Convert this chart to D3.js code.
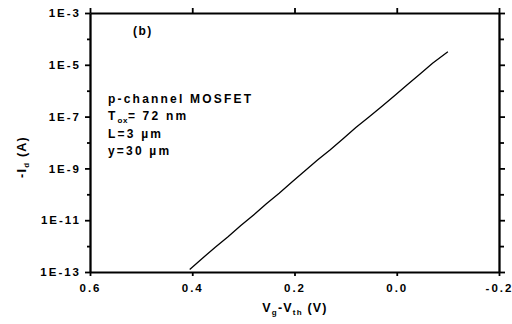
<html>
<head>
<script src="https://d3js.org/d3.v7.min.js"></script>
<style>
  body { margin: 0; background: #fff; }
  text { font-family: "Liberation Sans", Arial, sans-serif; font-weight: bold; fill: #000; }
</style>
</head>
<body>
<script>
// gate overdrive (V) and drain current (A)
var vg = [0.405, 0.38, 0.355, 0.33, 0.305, 0.28, 0.255, 0.23, 0.205, 0.18, 0.155,
          0.13, 0.105, 0.08, 0.055, 0.03, 0.005, -0.02, -0.045, -0.07, -0.1];
var id = [1.26e-13, 3.4e-13, 9.1e-13, 2.3e-12, 6.2e-12, 1.6e-11, 4.3e-11, 1.1e-10, 3.0e-10, 7.9e-10, 2.1e-9,
          5.2e-9, 1.4e-8, 3.8e-8, 9.5e-8, 2.4e-7, 6.3e-7, 1.66e-6, 4.3e-6, 1.15e-5, 3.2e-5];

var xTicks = [0.6, 0.4, 0.2, 0.0, -0.2];
var xTickLabels = ["0.6", "0.4", "0.2", "0.0", "-0.2"];
var yTicks = [1e-3, 1e-5, 1e-7, 1e-9, 1e-11, 1e-13];
var yTickLabels = ["1E-3", "1E-5", "1E-7", "1E-9", "1E-11", "1E-13"];
var yMinor = [1e-4, 1e-6, 1e-8, 1e-10, 1e-12];

var W = 512, H = 324;
var L = 90, R = 499, T = 13, B = 272;

var x = d3.scaleLinear().domain([0.6, -0.2]).range([L, R]);
var y = d3.scaleLog().domain([1e-13, 1e-3]).range([B, T]);

var svg = d3.select("body").append("svg").attr("width", W).attr("height", H);

// axes
var fmtX = function(d) { return xTickLabels[xTicks.indexOf(d)]; };
var fmtY = function(d) { return yTickLabels[yTicks.indexOf(d)]; };

var gB = svg.append("g").attr("transform", "translate(0," + B + ")")
  .call(d3.axisBottom(x).tickValues(xTicks).tickFormat(fmtX).tickSize(4).tickSizeOuter(0).tickPadding(5));
var gT = svg.append("g").attr("transform", "translate(0," + T + ")")
  .call(d3.axisTop(x).tickValues(xTicks).tickFormat("").tickSize(5).tickSizeOuter(0));
var gL = svg.append("g").attr("transform", "translate(" + L + ",0)")
  .call(d3.axisLeft(y).tickValues(yTicks).tickFormat(fmtY).tickSize(5).tickSizeOuter(0).tickPadding(4));
var gLm = svg.append("g").attr("transform", "translate(" + L + ",0)")
  .call(d3.axisLeft(y).tickValues(yMinor).tickFormat("").tickSize(3).tickSizeOuter(0));
var gR = svg.append("g").attr("transform", "translate(" + R + ",0)")
  .call(d3.axisRight(y).tickValues(yTicks).tickFormat("").tickSize(6).tickSizeOuter(0));
var gRm = svg.append("g").attr("transform", "translate(" + R + ",0)")
  .call(d3.axisRight(y).tickValues(yMinor).tickFormat("").tickSize(5).tickSizeOuter(0));

svg.selectAll(".domain, .tick line").attr("stroke", "#000").attr("stroke-width", 1.8);
svg.selectAll(".tick text")
  .style("font-family", "'Liberation Sans', Arial, sans-serif")
  .style("font-weight", "bold")
  .style("font-size", "11.5px")
  .style("letter-spacing", "2px")
  .attr("fill", "#000");
gB.selectAll(".tick text").attr("dy", "0.95em");

// curve
var pts = vg.map(function(v, i) { return [v, id[i]]; });
svg.append("path")
  .datum(pts)
  .attr("fill", "none")
  .attr("stroke", "#000")
  .attr("stroke-width", 1.3)
  .attr("d", d3.line().x(d => x(d[0])).y(d => y(d[1])));

// annotations
svg.append("text").attr("x", 133).attr("y", 35).style("font-size", "12px").style("letter-spacing", "1.5px").text("(b)");

var info = svg.append("g").style("font-size", "12px").style("letter-spacing", "2.2px");
info.append("text").attr("x", 108).attr("y", 103).text("p-channel MOSFET");
var t2 = info.append("text").attr("x", 108).attr("y", 120);
t2.append("tspan").text("T");
t2.append("tspan").attr("dy", 3).style("font-size", "8px").style("letter-spacing", "0.5px").text("ox");
t2.append("tspan").attr("dy", -3).text("= 72 nm");
info.append("text").attr("x", 108).attr("y", 138).text("L=3 \u00b5m");
info.append("text").attr("x", 108).attr("y", 155).text("y=30 \u00b5m");

// axis titles
var xt = svg.append("text").attr("x", 295).attr("y", 312).attr("text-anchor", "middle")
  .style("font-size", "12.5px").style("letter-spacing", "1.2px");
xt.append("tspan").text("V");
xt.append("tspan").attr("dy", 3).style("font-size", "8px").text("g");
xt.append("tspan").attr("dy", -3).text("-V");
xt.append("tspan").attr("dy", 3).style("font-size", "8px").text("th");
xt.append("tspan").attr("dy", -3).text(" (V)");

var yt = svg.append("text").attr("transform", "translate(26,157) rotate(-90)").attr("text-anchor", "middle")
  .style("font-size", "12.5px").style("letter-spacing", "1.2px");
yt.append("tspan").text("-I");
yt.append("tspan").attr("dy", 3).style("font-size", "8px").text("d");
yt.append("tspan").attr("dy", -3).text(" (A)");
</script>
</body>
</html>
